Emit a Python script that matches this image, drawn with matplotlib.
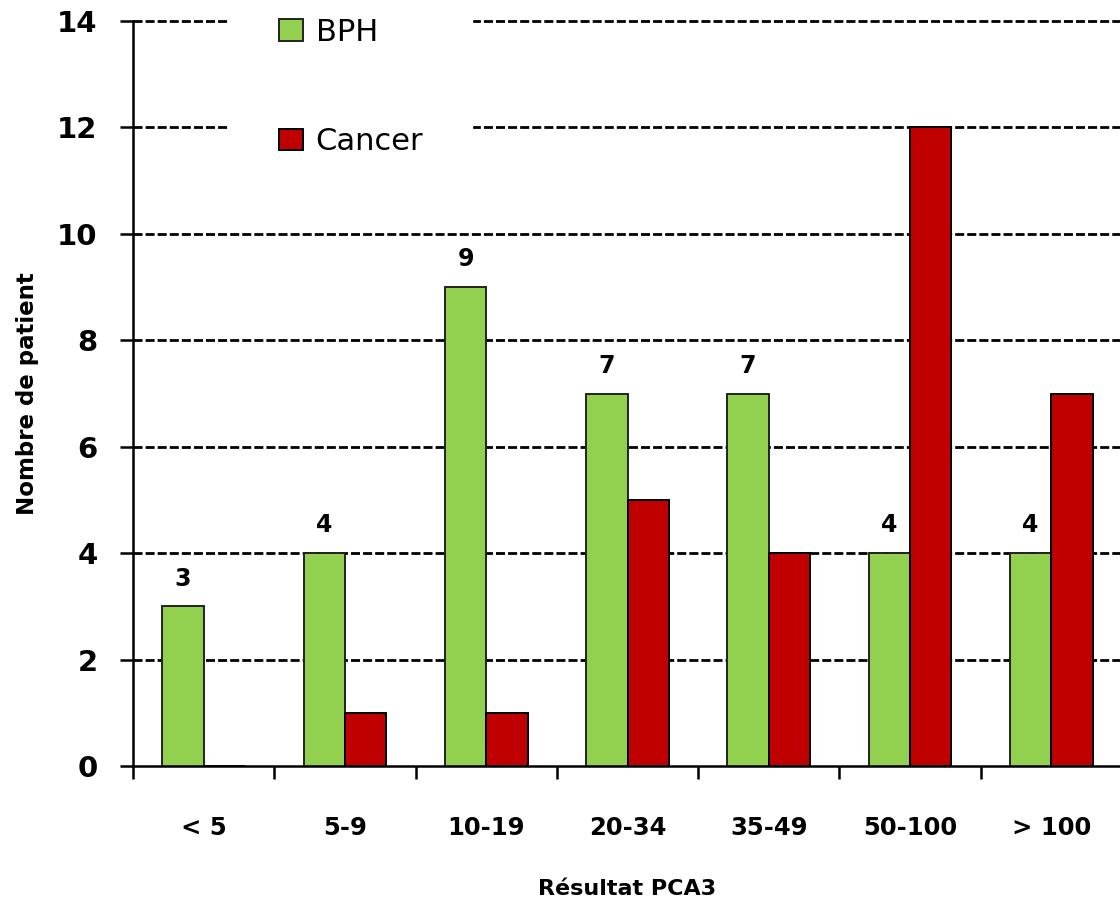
import matplotlib
matplotlib.use("Agg")
import matplotlib.pyplot as plt
import numpy as np

# Patient counts per PCA3 score band
categories = ["< 5", "5-9", "10-19", "20-34", "35-49", "50-100", "> 100"]
bph = [3, 4, 9, 7, 7, 4, 4]
cancer = [0, 1, 1, 5, 4, 12, 7]
series_names = ["BPH", "Cancer"]
y_ticks = [0, 2, 4, 6, 8, 10, 12, 14]

GREEN = "#92D050"
RED = "#C00000"

plt.rcParams["font.family"] = ["DejaVu Sans"]
plt.rcParams["lines.scale_dashes"] = False

W, H = 1120, 900
fig = plt.figure(figsize=(W / 100, H / 100), dpi=100)
ax = fig.add_axes([133 / W, 1 - 766 / H, (1122 - 133) / W, (766 - 21) / H])

x = np.arange(len(categories))
bw = 0.293
b1 = ax.bar(x - bw / 2, bph, bw, color=GREEN, edgecolor="#222222", linewidth=1.4,
            label=series_names[0], zorder=3)
b2 = ax.bar(x + bw / 2, cancer, bw, color=RED, edgecolor="black", linewidth=1.4,
            label=series_names[1], zorder=3)

# value labels on the BPH bars
for xi, v in zip(x, bph):
    ax.annotate(str(v), (xi - bw / 2, v), xytext=(0, 15), textcoords="offset points",
                ha="center", va="baseline", fontsize=17, fontweight="bold")

ax.set_xlim(-0.5, len(categories) - 0.5)
ax.set_ylim(0, 14)

# dashed horizontal grid
ax.set_yticks(y_ticks)
for yv in y_ticks[1:]:
    ax.axhline(yv, color="black", linewidth=2.0, linestyle=(0, (6.5, 2.2)),
               zorder=1, clip_on=False)

ax.spines["top"].set_visible(False)
ax.spines["right"].set_visible(False)
ax.spines["left"].set_linewidth(1.8)
ax.spines["bottom"].set_linewidth(1.8)

ax.tick_params(axis="y", direction="out", length=9.5, width=1.8, pad=16, labelsize=21)
for lab in ax.get_yticklabels():
    lab.set_fontweight("bold")

# boundary ticks between bands, labels at band centres
ax.set_xticks(np.arange(-0.5, len(categories) + 0.5, 1.0))
ax.set_xticklabels([])
ax.tick_params(axis="x", which="major", direction="out", length=9.5, width=1.8)
ax.set_xticks(x, minor=True)
ax.set_xticklabels(categories, minor=True, fontsize=17.5, fontweight="bold")
ax.tick_params(axis="x", which="minor", length=0, pad=36)

ax.set_xlabel("Résultat PCA3", fontsize=16, fontweight="bold", labelpad=28)
ax.set_ylabel("Nombre de patient", fontsize=16.5, fontweight="bold", labelpad=13)

leg = ax.legend(handles=[b1, b2], loc="upper left",
                bbox_to_anchor=(230 / W, 1 + 31 / H), bbox_transform=fig.transFigure,
                fontsize=22, frameon=True, fancybox=False, borderpad=1.6,
                labelspacing=2.63, handlelength=0.78, handleheight=0.72,
                handletextpad=0.42, borderaxespad=0)
leg.get_frame().set_facecolor("white")
leg.get_frame().set_edgecolor("white")
leg.get_frame().set_alpha(1)
leg.set_zorder(5)

fig.savefig("out.png", dpi=100, facecolor="white")
